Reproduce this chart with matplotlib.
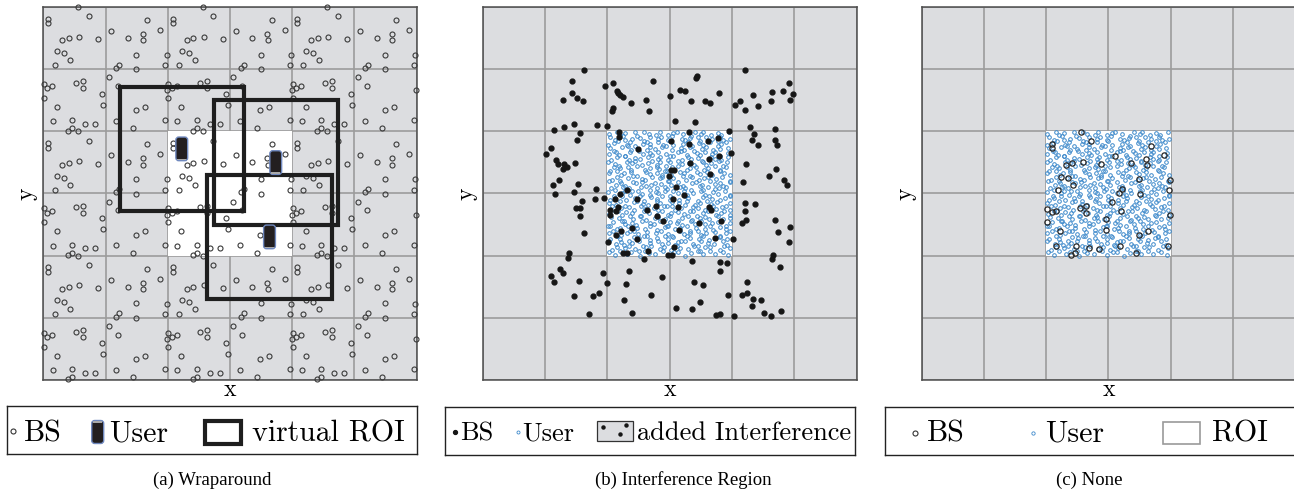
import numpy as np
import matplotlib.pyplot as plt
from matplotlib.patches import Rectangle, FancyBboxPatch

W, H = 1294, 493
N_CELLS = 6
ROI_LO, ROI_SIZE = 2.0, 2.0

# (a) BS positions inside one ROI-sized tile, repeated by wraparound
tile_bs = [
    (0.56, 1.995), (0.73, 1.845), (0.08, 1.81), (0.08, 1.73), (0.305, 1.46),
    (0.41, 1.49), (0.58, 1.52), (0.88, 1.475), (0.225, 1.28), (0.34, 1.25),
    (0.43, 1.14), (0.18, 1.06), (1.09, 1.615), (1.36, 1.50), (1.67, 1.79),
    (1.88, 1.625), (1.60, 1.566), (1.61, 1.46), (1.495, 1.23), (1.98, 1.223),
    (1.96, 1.06), (1.22, 1.07), (1.17, 1.02), (1.495, 0.993), (1.056, 0.864),
    (0.005, 0.762), (0.064, 0.69), (0.145, 0.72), (0.525, 0.773), (0.632, 0.80),
    (0.638, 0.69), (0.005, 0.537), (0.943, 0.596), (0.965, 0.42), (0.22, 0.39),
    (1.195, 0.725), (1.99, 0.655), (1.485, 0.333), (1.63, 0.39), (1.96, 0.173),
    (0.15, 0.157), (0.466, 0.173), (0.466, 0.044), (0.402, 0.01), (0.675, 0.12),
    (0.836, 0.12), (1.168, 0.162), (1.436, 0.044),
]
wrap_users = [(2.225, 3.715), (3.735, 3.495), (3.635, 2.30)]

# (b) BS inside the ROI and BS of the added interference ring
roi_bs_b = [
    (2.193, 3.984), (2.193, 3.904), (2.487, 3.717), (3.027, 3.834), (3.305, 3.984),
    (3.305, 3.797), (3.620, 3.834), (3.775, 3.888), (3.957, 4.000), (3.979, 3.642),
    (3.626, 3.556), (3.786, 3.599), (3.321, 3.481), (3.027, 3.380), (3.070, 3.380),
    (2.989, 3.273), (3.647, 3.316), (3.102, 3.102), (2.321, 3.048), (2.198, 2.989),
    (2.123, 2.914), (2.471, 2.904), (3.059, 2.909), (3.225, 2.968), (3.128, 2.775),
    (2.642, 2.738), (2.786, 2.791), (2.166, 2.786), (2.037, 2.733), (2.144, 2.711),
    (2.043, 2.658), (2.791, 2.631), (2.888, 2.561), (3.476, 2.529), (3.631, 2.781),
    (3.668, 2.738), (3.818, 2.556), (2.214, 2.401), (2.401, 2.439), (3.155, 2.406),
    (3.727, 2.289), (4.011, 2.273), (2.011, 2.225), (2.481, 2.273), (2.134, 2.337),
    (3.075, 2.144), (2.647, 2.070), (2.246, 2.043), (2.316, 2.043), (2.968, 2.011),
    (3.043, 2.005),
]
interf_bs_b = [
    (1.631, 4.984), (1.433, 4.813), (1.963, 4.727), (2.086, 4.770), (2.150, 4.652),
    (2.176, 4.610), (2.203, 4.583), (2.246, 4.545), (1.433, 4.610), (1.508, 4.540),
    (1.604, 4.487), (1.283, 4.503), (2.374, 4.449), (2.620, 4.503), (2.663, 4.316),
    (2.727, 4.813), (2.096, 4.369), (2.080, 4.316), (1.840, 4.091), (1.989, 4.086),
    (1.471, 4.112), (1.305, 4.064), (1.144, 4.016), (3.439, 4.888), (3.417, 4.861),
    (3.171, 4.663), (3.251, 4.652), (3.011, 4.567), (3.348, 4.492), (3.567, 4.487),
    (3.642, 4.460), (3.791, 4.610), (3.086, 4.160), (3.412, 4.139), (4.209, 4.984),
    (4.920, 4.781), (4.642, 4.636), (4.813, 4.647), (4.984, 4.599), (4.342, 4.578),
    (4.128, 4.481), (4.048, 4.428), (4.209, 4.342), (4.417, 4.412), (4.620, 4.487),
    (4.930, 4.503), (4.289, 4.064), (4.690, 4.037),
    (1.556, 3.968), (1.508, 3.861), (1.091, 3.733), (1.011, 3.631), (1.182, 3.540),
    (1.203, 3.471), (1.305, 3.471), (1.348, 3.422), (1.294, 3.390), (1.481, 3.492),
    (1.225, 3.214), (1.128, 3.134), (1.155, 2.995), (1.535, 3.150), (1.460, 3.027),
    (1.824, 3.070), (1.947, 2.930), (1.802, 2.904), (1.594, 2.882), (1.503, 2.759),
    (1.561, 2.765), (1.556, 2.642), (1.620, 2.364),
    (4.358, 3.952), (4.316, 3.850), (4.412, 3.770), (4.684, 3.861), (4.727, 3.770),
    (4.225, 3.476), (4.706, 3.396), (4.588, 3.278), (4.834, 3.219), (4.877, 3.134),
    (4.182, 3.176), (4.209, 2.840), (4.374, 2.829), (4.209, 2.722), (4.219, 2.572),
    (4.166, 2.524), (4.684, 2.567), (4.738, 2.385), (4.930, 2.460), (4.909, 2.225),
    (4.663, 2.016), (4.647, 1.952), (4.775, 1.824),
    (1.380, 2.043), (1.374, 1.957), (1.241, 1.786), (1.283, 1.717), (1.091, 1.674),
    (1.144, 1.583), (1.540, 1.594), (1.925, 1.727), (1.995, 1.567), (1.866, 1.401),
    (1.775, 1.358), (1.460, 1.358), (1.706, 1.059), (2.342, 1.749), (2.294, 1.540),
    (2.262, 1.289), (2.396, 1.080), (2.594, 1.947), (2.877, 1.652), (2.701, 1.364),
    (3.102, 1.160), (3.358, 1.139), (3.487, 1.246), (3.390, 1.578), (3.535, 1.519),
    (3.353, 1.909), (3.807, 1.898), (3.914, 1.882), (3.813, 1.759), (3.936, 1.369),
    (3.749, 1.043), (3.802, 1.053), (4.037, 1.021), (4.155, 1.364), (4.235, 1.406),
    (4.241, 1.578), (4.332, 1.305), (4.460, 1.289), (4.316, 1.193), (4.508, 1.075),
    (4.620, 1.032), (4.781, 1.107),
]

# (c) BS inside the ROI only
roi_bs_c = [
    (2.567, 3.989), (2.727, 3.840), (2.096, 3.791), (2.086, 3.722), (3.102, 3.604),
    (2.594, 3.508), (2.316, 3.455), (2.417, 3.481), (2.888, 3.465), (3.369, 3.492),
    (3.599, 3.551), (3.620, 3.449), (3.679, 3.765), (3.888, 3.615), (2.230, 3.267),
    (2.353, 3.241), (2.433, 3.134), (3.492, 3.225), (3.984, 3.214), (2.193, 3.053),
    (3.225, 3.064), (3.171, 3.011), (3.503, 2.989), (3.968, 3.053), (3.064, 2.861),
    (2.016, 2.749), (2.086, 2.695), (2.150, 2.717), (2.540, 2.770), (2.636, 2.797),
    (2.647, 2.690), (3.209, 2.717), (3.995, 2.647), (2.957, 2.588), (2.005, 2.535),
    (2.968, 2.412), (2.219, 2.396), (3.487, 2.332), (3.636, 2.390), (2.155, 2.155),
    (2.476, 2.155), (2.684, 2.118), (2.850, 2.112), (3.182, 2.160), (3.449, 2.043),
    (3.957, 2.160), (2.406, 2.011), (2.460, 2.037),
]

# users dropped in the ROI (panels b and c)
users = [
    (2.02, 3.95), (2.15, 3.99), (2.20, 3.93), (2.29, 3.97), (2.44, 3.98), (2.48, 3.92), (2.59, 3.99), (2.66, 3.96),
    (2.78, 3.94), (2.84, 3.98), (2.98, 3.93), (3.06, 3.97), (3.11, 3.99), (3.21, 3.95), (3.34, 3.92), (3.41, 3.98),
    (3.50, 3.96), (3.54, 3.99), (3.66, 3.94), (3.77, 3.97), (3.83, 3.93), (3.95, 3.98),
    (2.05, 3.90), (2.13, 3.86), (2.25, 3.92), (2.29, 3.85), (2.39, 3.88), (2.53, 3.89), (2.59, 3.84), (2.68, 3.91),
    (2.81, 3.87), (2.86, 3.90), (2.97, 3.85), (3.04, 3.92), (3.19, 3.88), (3.25, 3.86), (3.33, 3.89), (3.45, 3.91),
    (3.49, 3.84), (3.59, 3.90), (3.68, 3.87), (3.81, 3.91), (3.86, 3.86), (3.97, 3.88),
    (2.01, 3.77), (2.11, 3.81), (2.17, 3.84), (2.31, 3.78), (2.36, 3.82), (2.45, 3.76), (2.57, 3.80), (2.64, 3.83),
    (2.68, 3.79), (2.81, 3.82), (2.89, 3.77), (3.00, 3.84), (3.06, 3.78), (3.21, 3.80), (3.30, 3.83), (3.35, 3.76),
    (3.47, 3.81), (3.54, 3.77), (3.64, 3.82), (3.77, 3.84), (3.83, 3.79), (3.91, 3.82),
    (2.04, 3.73), (2.11, 3.68), (2.24, 3.74), (2.33, 3.76), (2.38, 3.70), (2.49, 3.72), (2.64, 3.69), (2.68, 3.75),
    (2.76, 3.71), (2.88, 3.74), (2.94, 3.76), (3.04, 3.69), (3.18, 3.73), (3.23, 3.70), (3.32, 3.75), (3.39, 3.68),
    (3.52, 3.72), (3.58, 3.74), (3.69, 3.69), (3.77, 3.76), (3.81, 3.71), (3.93, 3.73),
    (2.02, 3.64), (2.14, 3.67), (2.19, 3.62), (2.29, 3.60), (2.37, 3.66), (2.51, 3.68), (2.57, 3.63), (2.68, 3.65),
    (2.72, 3.61), (2.81, 3.67), (2.94, 3.64), (3.01, 3.60), (3.13, 3.66), (3.18, 3.68), (3.28, 3.62), (3.43, 3.65),
    (3.49, 3.61), (3.57, 3.67), (3.68, 3.63), (3.72, 3.66), (3.81, 3.60), (3.94, 3.65),
    (2.06, 3.54), (2.15, 3.58), (2.29, 3.60), (2.34, 3.53), (2.45, 3.57), (2.52, 3.55), (2.65, 3.59), (2.71, 3.52),
    (2.81, 3.56), (2.85, 3.58), (2.97, 3.54), (3.05, 3.60), (3.20, 3.53), (3.29, 3.59), (3.34, 3.55), (3.45, 3.57),
    (3.52, 3.52), (3.66, 3.58), (3.72, 3.56), (3.82, 3.53), (3.94, 3.59),
    (2.01, 3.51), (2.12, 3.47), (2.18, 3.44), (2.31, 3.50), (2.39, 3.48), (2.44, 3.52), (2.56, 3.46), (2.65, 3.49),
    (2.80, 3.45), (2.84, 3.51), (2.94, 3.44), (3.01, 3.50), (3.14, 3.52), (3.20, 3.47), (3.31, 3.49), (3.39, 3.45),
    (3.53, 3.51), (3.58, 3.46), (3.67, 3.48), (3.79, 3.52), (3.86, 3.44), (3.92, 3.50),
    (2.04, 3.36), (2.10, 3.42), (2.20, 3.40), (2.33, 3.43), (2.38, 3.38), (2.47, 3.44), (2.61, 3.37), (2.68, 3.41),
    (2.79, 3.43), (2.83, 3.39), (2.95, 3.36), (3.03, 3.42), (3.13, 3.44), (3.28, 3.38), (3.33, 3.40), (3.42, 3.43),
    (3.55, 3.37), (3.61, 3.41), (3.72, 3.44), (3.80, 3.38), (3.90, 3.42),
    (2.02, 3.33), (2.15, 3.36), (2.22, 3.29), (2.27, 3.32), (2.38, 3.34), (2.47, 3.28), (2.62, 3.35), (2.68, 3.31),
    (2.80, 3.33), (2.88, 3.30), (2.92, 3.36), (3.02, 3.29), (3.16, 3.34), (3.23, 3.32), (3.32, 3.28), (3.44, 3.35),
    (3.49, 3.31), (3.60, 3.34), (3.68, 3.29), (3.81, 3.36), (3.87, 3.32), (3.97, 3.30),
    (2.07, 3.22), (2.16, 3.27), (2.21, 3.20), (2.33, 3.25), (2.41, 3.28), (2.55, 3.23), (2.61, 3.21), (2.71, 3.26),
    (2.84, 3.24), (2.88, 3.27), (2.99, 3.20), (3.06, 3.25), (3.21, 3.28), (3.26, 3.22), (3.35, 3.26), (3.47, 3.21),
    (3.55, 3.24), (3.61, 3.27), (3.74, 3.23), (3.84, 3.26), (3.96, 3.20),
    (2.03, 3.20), (2.14, 3.14), (2.22, 3.17), (2.28, 3.12), (2.41, 3.18), (2.46, 3.16), (2.56, 3.19), (2.70, 3.13),
    (2.77, 3.17), (2.86, 3.15), (2.98, 3.20), (3.02, 3.14), (3.13, 3.19), (3.21, 3.12), (3.36, 3.16), (3.42, 3.18),
    (3.52, 3.13), (3.65, 3.20), (3.72, 3.15), (3.81, 3.17), (3.86, 3.12), (3.97, 3.18),
    (2.06, 3.08), (2.13, 3.05), (2.25, 3.11), (2.35, 3.09), (2.40, 3.04), (2.54, 3.10), (2.62, 3.12), (2.68, 3.06),
    (2.79, 3.08), (2.92, 3.11), (2.96, 3.07), (3.05, 3.04), (3.17, 3.10), (3.24, 3.09), (3.34, 3.05), (3.49, 3.12),
    (3.54, 3.06), (3.62, 3.11), (3.73, 3.07), (3.79, 3.08), (3.91, 3.10),
    (2.01, 3.02), (2.11, 2.96), (2.24, 3.01), (2.29, 3.04), (2.37, 2.98), (2.49, 3.03), (2.55, 2.99), (2.69, 2.97),
    (2.78, 3.02), (2.82, 3.00), (2.93, 3.04), (3.00, 2.96), (3.13, 3.01), (3.23, 3.03), (3.28, 2.98), (3.37, 3.00),
    (3.51, 3.04), (3.57, 2.97), (3.69, 3.02), (3.77, 2.99), (3.88, 3.03), (3.97, 2.98),
    (2.05, 2.89), (2.13, 2.93), (2.24, 2.96), (2.30, 2.90), (2.44, 2.92), (2.53, 2.95), (2.58, 2.88), (2.70, 2.94),
    (2.80, 2.91), (2.87, 2.96), (3.00, 2.89), (3.04, 2.93), (3.15, 2.90), (3.24, 2.95), (3.30, 2.92), (3.45, 2.88),
    (3.53, 2.94), (3.63, 2.96), (3.68, 2.91), (3.80, 2.89), (3.89, 2.93), (3.97, 2.95),
    (2.02, 2.85), (2.14, 2.82), (2.20, 2.87), (2.29, 2.80), (2.42, 2.86), (2.47, 2.88), (2.57, 2.83), (2.65, 2.81),
    (2.79, 2.87), (2.85, 2.84), (2.96, 2.80), (3.03, 2.86), (3.15, 2.85), (3.24, 2.82), (3.28, 2.88), (3.41, 2.81),
    (3.49, 2.84), (3.60, 2.87), (3.66, 2.83), (3.76, 2.86), (3.90, 2.80), (3.97, 2.85),
    (2.07, 2.79), (2.17, 2.72), (2.22, 2.76), (2.35, 2.78), (2.43, 2.74), (2.54, 2.80), (2.60, 2.75), (2.75, 2.77),
    (2.82, 2.73), (2.91, 2.79), (3.03, 2.80), (3.08, 2.74), (3.18, 2.76), (3.32, 2.72), (3.38, 2.78), (3.46, 2.77),
    (3.57, 2.73), (3.70, 2.80), (3.75, 2.75), (3.84, 2.78), (3.96, 2.73),
    (2.03, 2.67), (2.12, 2.72), (2.24, 2.65), (2.30, 2.70), (2.40, 2.68), (2.54, 2.64), (2.59, 2.71), (2.67, 2.69),
    (2.80, 2.66), (2.87, 2.72), (2.98, 2.65), (3.02, 2.68), (3.14, 2.70), (3.23, 2.67), (3.38, 2.71), (3.44, 2.64),
    (3.54, 2.69), (3.61, 2.72), (3.74, 2.66), (3.82, 2.68), (3.87, 2.71), (3.97, 2.65),
    (2.06, 2.62), (2.19, 2.60), (2.26, 2.56), (2.36, 2.63), (2.41, 2.59), (2.53, 2.64), (2.62, 2.57), (2.76, 2.61),
    (2.82, 2.62), (2.93, 2.58), (3.01, 2.64), (3.14, 2.56), (3.19, 2.61), (3.29, 2.63), (3.36, 2.57), (3.48, 2.60),
    (3.57, 2.62), (3.63, 2.59), (3.77, 2.64), (3.85, 2.58), (3.96, 2.61),
    (2.01, 2.48), (2.09, 2.54), (2.23, 2.56), (2.28, 2.51), (2.39, 2.53), (2.46, 2.49), (2.56, 2.55), (2.69, 2.52),
    (2.75, 2.50), (2.84, 2.56), (2.96, 2.48), (3.00, 2.54), (3.11, 2.53), (3.19, 2.49), (3.34, 2.55), (3.41, 2.51),
    (3.51, 2.56), (3.56, 2.50), (3.68, 2.52), (3.77, 2.54), (3.90, 2.48), (3.97, 2.53),
    (2.04, 2.47), (2.15, 2.42), (2.21, 2.44), (2.33, 2.48), (2.42, 2.40), (2.47, 2.45), (2.61, 2.43), (2.69, 2.47),
    (2.79, 2.41), (2.92, 2.46), (2.98, 2.48), (3.09, 2.42), (3.16, 2.44), (3.28, 2.47), (3.33, 2.40), (3.42, 2.45),
    (3.56, 2.43), (3.64, 2.48), (3.70, 2.41), (3.81, 2.46), (3.91, 2.42),
    (2.02, 2.36), (2.09, 2.39), (2.22, 2.33), (2.31, 2.37), (2.37, 2.40), (2.49, 2.34), (2.59, 2.32), (2.64, 2.38),
    (2.78, 2.36), (2.86, 2.39), (2.97, 2.35), (3.04, 2.32), (3.17, 2.40), (3.23, 2.34), (3.33, 2.37), (3.45, 2.39),
    (3.50, 2.33), (3.59, 2.36), (3.73, 2.38), (3.80, 2.32), (3.91, 2.37), (3.97, 2.39),
    (2.05, 2.26), (2.15, 2.32), (2.21, 2.27), (2.35, 2.24), (2.42, 2.30), (2.51, 2.28), (2.63, 2.31), (2.68, 2.25),
    (2.79, 2.29), (2.92, 2.32), (2.98, 2.26), (3.06, 2.30), (3.18, 2.24), (3.28, 2.31), (3.33, 2.28), (3.47, 2.27),
    (3.54, 2.32), (3.63, 2.25), (3.74, 2.29), (3.80, 2.30), (3.92, 2.26),
    (2.02, 2.24), (2.14, 2.19), (2.22, 2.22), (2.27, 2.17), (2.40, 2.20), (2.50, 2.23), (2.57, 2.16), (2.68, 2.21),
    (2.82, 2.24), (2.88, 2.18), (2.97, 2.20), (3.09, 2.17), (3.14, 2.22), (3.24, 2.24), (3.37, 2.19), (3.45, 2.16),
    (3.51, 2.23), (3.62, 2.21), (3.71, 2.18), (3.85, 2.23), (3.92, 2.17),
    (2.07, 2.09), (2.16, 2.14), (2.29, 2.12), (2.35, 2.16), (2.45, 2.10), (2.50, 2.08), (2.62, 2.13), (2.70, 2.15),
    (2.84, 2.11), (2.91, 2.14), (3.02, 2.09), (3.11, 2.16), (3.16, 2.12), (3.29, 2.10), (3.39, 2.15), (3.45, 2.08),
    (3.57, 2.13), (3.65, 2.14), (3.80, 2.09), (3.87, 2.16), (3.96, 2.12),
    (2.03, 2.05), (2.13, 2.01), (2.20, 2.07), (2.32, 2.03), (2.38, 2.06), (2.52, 2.00), (2.61, 2.08), (2.66, 2.04),
    (2.77, 2.02), (2.90, 2.07), (2.97, 2.01), (3.07, 2.05), (3.13, 2.06), (3.25, 2.00), (3.34, 2.04), (3.48, 2.07),
    (3.53, 2.02), (3.64, 2.08), (3.72, 2.03), (3.85, 2.06), (3.94, 2.01),
]

BG = '#dcdde0'
GRID = '#9c9c9c'
CM = 'cmr10'
USER_EDGE = '#3d89cb'

fig = plt.figure(figsize=(W / 100, H / 100), dpi=100)


def px_axes(x0, y0, x1, y1):
    return fig.add_axes([x0 / W, 1 - y1 / H, (x1 - x0) / W, (y1 - y0) / H])


def setup_panel(ax):
    ax.set_xlim(0, N_CELLS)
    ax.set_ylim(0, N_CELLS)
    ax.set_facecolor(BG)
    ax.set_xticks(range(N_CELLS + 1))
    ax.set_yticks(range(N_CELLS + 1))
    ax.tick_params(length=0, labelbottom=False, labelleft=False)
    ax.grid(True, color=GRID, lw=1.2)
    ax.set_axisbelow(True)
    for s in ax.spines.values():
        s.set_color('#4d4d4d')
        s.set_linewidth(1.1)
    ax.add_patch(Rectangle((ROI_LO, ROI_LO), ROI_SIZE, ROI_SIZE, fc='white', ec='none', zorder=1))
    ax.set_xlabel('x', fontfamily=CM, fontsize=17, labelpad=-1)
    ax.set_ylabel('y', fontfamily=CM, fontsize=17, labelpad=4)


def draw_phone(ax, x, y, w, h):
    ax.add_patch(FancyBboxPatch((x - w / 2, y - h / 2), w, h,
                                boxstyle='round,pad=0,rounding_size=%g' % (w * 0.25),
                                fc='#231f20', ec='#7089bf', lw=1.0, zorder=6))
    ax.add_patch(Rectangle((x - w * 0.38, y - h / 2 + h * 0.02), w * 0.76, h * 0.07,
                           fc='#a9a9a9', ec='none', zorder=7))


def pts(lst):
    a = np.array(lst)
    return a[:, 0], a[:, 1]


# ---- (a) wraparound
ax = px_axes(43.3, 6.7, 416.7, 380)
setup_panel(ax)
tx, ty = pts(tile_bs)
for i in range(3):
    for j in range(3):
        ax.plot(tx + ROI_SIZE * i, ty + ROI_SIZE * j, 'o', ms=3.6, mfc='none',
                mec='#3a3a3a', mew=0.8, ls='none', clip_on=False, zorder=3)
for ux, uy in wrap_users:
    ax.add_patch(Rectangle((ux - ROI_SIZE / 2, uy - ROI_SIZE / 2), ROI_SIZE, ROI_SIZE,
                           fill=False, ec='#1e1e1e', lw=3.0, zorder=5))
    draw_phone(ax, ux, uy, 0.19, 0.38)

# ---- (b) interference region
ax = px_axes(482.7, 6.7, 856.7, 380)
setup_panel(ax)
ux_, uy_ = pts(users)
ax.plot(ux_, uy_, 'o', ms=2.6, mfc='none', mec=USER_EDGE, mew=0.7, ls='none', zorder=3)
bx, by = pts(roi_bs_b + interf_bs_b)
ax.plot(bx, by, 'o', ms=3.5, color='#161616', ls='none', zorder=4)

# ---- (c) none
ax = px_axes(921.7, 6.7, 1295.2, 380)
setup_panel(ax)
ax.plot(ux_, uy_, 'o', ms=2.6, mfc='none', mec=USER_EDGE, mew=0.7, ls='none', zorder=3)
cx, cy = pts(roi_bs_c)
ax.plot(cx, cy, 'o', ms=3.8, mfc='none', mec='#262626', mew=0.9, ls='none', zorder=4)


# ---- legend boxes
def legend_box(x0, y0, x1, y1):
    lg = px_axes(x0, y0, x1, y1)
    lg.set_xlim(x0, x1)
    lg.set_ylim(y1, y0)
    lg.set_xticks([])
    lg.set_yticks([])
    for s in lg.spines.values():
        s.set_color('#222222')
        s.set_linewidth(1.0)
    return lg


lg = legend_box(6.7, 405.7, 416.7, 454.3)
lg.plot(13, 431.5, 'o', ms=3.6, mfc='none', mec='#333333', mew=0.8)
lg.text(24, 441.5, 'BS', fontfamily=CM, fontsize=21.5, va='baseline')
draw_phone(lg, 97.7, 432, 12, 23)
lg.text(109, 441.5, 'User', fontfamily=CM, fontsize=21.5, va='baseline')
lg.add_patch(Rectangle((204.5, 421.5), 36, 22.5, fill=False, ec='#1e1e1e', lw=3.0))
lg.text(252, 441.5, 'virtual ROI', fontfamily=CM, fontsize=21.5, va='baseline')

lg = legend_box(445, 406.7, 855, 455)
lg.plot(455.5, 432, 'o', ms=2.8, color='#161616')
lg.text(460, 440.5, 'BS', fontfamily=CM, fontsize=19, va='baseline')
lg.plot(518, 432, 'o', ms=2.2, mfc='none', mec=USER_EDGE, mew=0.6)
lg.text(522, 440.5, 'User', fontfamily=CM, fontsize=19, va='baseline')
lg.add_patch(Rectangle((597, 421), 36, 19.5, fc=BG, ec='#333333', lw=0.9))
lg.plot([603.5, 620, 626.5], [426.5, 433.5, 424.5], 'o', ms=2.2, color='#161616', ls='none')
lg.text(637, 440.5, 'added Interference', fontfamily=CM, fontsize=19, va='baseline')

lg = legend_box(885, 406.7, 1300, 455)
lg.plot(915, 433, 'o', ms=3.6, mfc='none', mec='#333333', mew=0.8)
lg.text(926.5, 441.7, 'BS', fontfamily=CM, fontsize=21.5, va='baseline')
lg.plot(1033.3, 433, 'o', ms=2.4, mfc='none', mec=USER_EDGE, mew=0.6)
lg.text(1045, 441.7, 'User', fontfamily=CM, fontsize=21.5, va='baseline')
lg.add_patch(Rectangle((1163, 422), 37, 22, fc='white', ec='#9a9a9a', lw=1.2))
lg.text(1212, 441.7, 'ROI', fontfamily=CM, fontsize=21.5, va='baseline')

# ---- captions
for cxp, label in [(211.7, '(a) Wraparound'), (683, '(b) Interference Region'), (1089, '(c) None')]:
    fig.text(cxp / W, 1 - 480 / H, label, ha='center', va='center',
             fontfamily='Liberation Serif', fontsize=13.5)

fig.savefig('out.png', dpi=100)
